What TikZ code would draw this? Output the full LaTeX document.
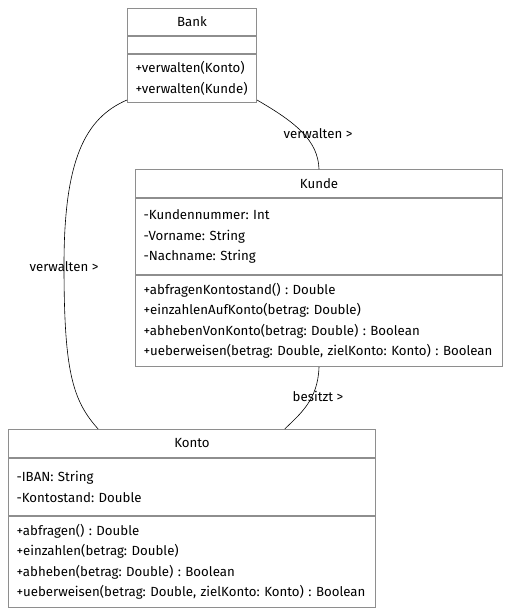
\documentclass[tikz,border=0pt]{standalone}
\usepackage{fontspec}
\setmainfont{Fira Sans}
\usetikzlibrary{positioning,calc}

\definecolor{boxgray}{HTML}{8E8E8E}
\newcommand{\umlfont}{\fontsize{13.25}{20.5}\selectfont\frenchspacing}

\tikzset{
  classname/.style={draw=boxgray, line width=1pt, inner sep=0pt, anchor=north west,
    minimum height=#1, font=\umlfont},
  classpart/.style={draw=boxgray, line width=1pt, inner xsep=8pt, inner ysep=0pt,
    anchor=north west, align=left, minimum height=#1, font=\umlfont},
  assoc/.style={draw=black, line width=0.6pt},
  assoclabel/.style={inner sep=0pt, font=\umlfont}
}

\begin{document}
\begin{tikzpicture}[x=1pt,y=-1pt]
  \useasboundingbox (0,0) rectangle (510,613);

  % Bank
  \node[classname=27pt, minimum width=129pt] (bankName) at (127,8) {Bank};
  \node[classpart=17pt, text width=113pt] (bankAttr) at (bankName.south west) {};
  \node[classpart=48pt, text width=113pt] (bankOps) at (bankAttr.south west)
    {+verwalten(Konto)\\+verwalten(Kunde)};

  % Kunde
  \node[classname=28pt, minimum width=367pt] (kundeName) at (135,169) {Kunde};
  \node[classpart=76pt, text width=351pt] (kundeAttr) at (kundeName.south west)
    {-Kundennummer: Int\\-Vorname: String\\-Nachname: String};
  \node[classpart=91pt, text width=351pt] (kundeOps) at (kundeAttr.south west)
    {+abfragenKontostand() : Double\\
     +einzahlenAufKonto(betrag: Double)\\
     +abhebenVonKonto(betrag: Double) : Boolean\\
     \mbox{+ueberweisen(betrag: Double, zielKonto: Konto) : Boolean}};

  % Konto
  \node[classname=28pt, minimum width=367pt] (kontoName) at (8,429) {Konto};
  \node[classpart=57pt, text width=351pt] (kontoAttr) at (kontoName.south west)
    {-IBAN: String\\-Kontostand: Double};
  \node[classpart=91pt, text width=351pt] (kontoOps) at (kontoAttr.south west)
    {+abfragen() : Double\\
     +einzahlen(betrag: Double)\\
     +abheben(betrag: Double) : Boolean\\
     \mbox{+ueberweisen(betrag: Double, zielKonto: Konto) : Boolean}};

  \coordinate (kontoLeftEnd) at ($(kontoName.north west)!0.245!(kontoName.north east)$);
  \coordinate (kontoRightEnd) at ($(kontoName.north west)!0.752!(kontoName.north east)$);

  % associations
  \draw[assoc] ($(bankOps.south east)+(0,-3)$) .. controls (295,122) and (318,140) .. (kundeName.north);
  \draw[assoc] ($(bankOps.south west)+(0,-3)$) .. controls (85,118) and (64,160) .. (64,265)
    .. controls (64,370) and (72,400) .. (kontoLeftEnd);
  \draw[assoc] (kundeOps.south) .. controls (318,400) and (300,414) .. (kontoRightEnd);

  \node[assoclabel] (lblBankKunde) at (318,134) {verwalten >};
  \node[assoclabel] (lblBankKonto) at (64,267) {verwalten >};
  \node[assoclabel] (lblBesitzt) at (318,396) {besitzt >};
\end{tikzpicture}
\end{document}
